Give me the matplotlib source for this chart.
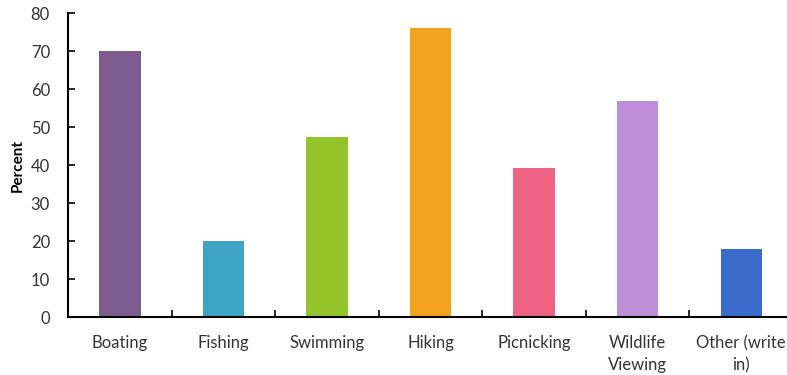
import matplotlib
matplotlib.use("Agg")
import matplotlib.pyplot as plt
import matplotlib.ticker as ticker

categories = ["Boating", "Fishing", "Swimming", "Hiking", "Picnicking",
              "Wildlife\nViewing", "Other (write\nin)"]
percent = [70, 20, 47.4, 76, 39.2, 56.8, 17.9]
colors = ["#7B5E8E", "#3FA3C4", "#93C52A", "#F3A21E", "#EE6384", "#BE8FD8", "#3A6CCB"]

plt.rcParams['font.family'] = ['Lato', 'DejaVu Sans']

fig = plt.figure(figsize=(7.87, 3.75), dpi=100)
# axes right edge runs a bit past the figure, as in the cropped original
axes = fig.add_axes([68 / 787, 58 / 375, 725 / 787, 304 / 375])

x = range(len(categories))
axes.bar(x, percent, width=0.4, color=colors)

axes.set_xlim(-0.5, len(categories) - 0.5)
axes.set_ylim(0, 80)
axes.yaxis.set_major_locator(ticker.MultipleLocator(10))

# category labels at centres, ticks on boundaries
axes.set_xticks([i + 0.5 for i in range(len(categories) - 1)])
axes.set_xticklabels([])
axes.set_xticks(list(x), minor=True)
axes.set_xticklabels(categories, minor=True, fontsize=12, color="#333333",
                     linespacing=1.45)
axes.tick_params(axis='x', which='minor', length=0, pad=13)
axes.tick_params(axis='x', which='major', direction='in', length=5, width=1.2)
axes.tick_params(axis='y', direction='in', length=5, width=1.2, labelsize=12,
                 labelcolor="#333333", pad=13)

for side in ['top', 'right']:
    axes.spines[side].set_visible(False)
for side in ['left', 'bottom']:
    axes.spines[side].set_linewidth(1.5)

axes.set_ylabel("Percent", fontsize=11, fontweight='bold', labelpad=4)

plt.savefig("out.png", dpi=100)
